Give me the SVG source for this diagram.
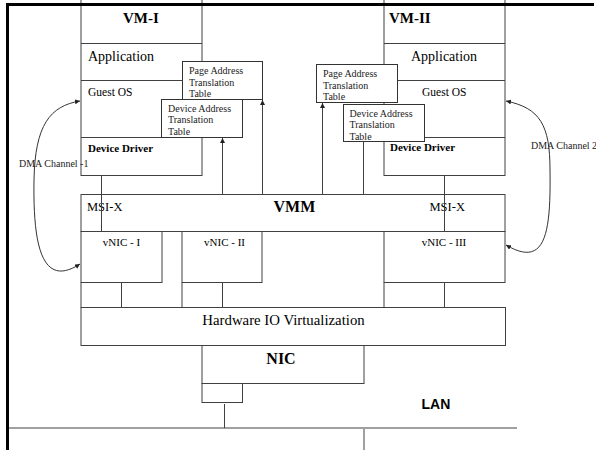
<svg xmlns="http://www.w3.org/2000/svg" width="596" height="450" viewBox="0 0 596 450">
<defs>
<style>
.box{fill:#fff;stroke:#404040;stroke-width:1}
.ln{fill:none;stroke:#404040;stroke-width:1}
.tbl{fill:#fff;stroke:#333;stroke-width:1}
.t{font-family:"Liberation Serif","Times New Roman",serif;fill:#000}
.tt{font-family:"Liberation Serif","Times New Roman",serif;font-size:10px;fill:#222}
.b{font-weight:bold}
</style>
<marker id="ah" viewBox="0 0 10 10" refX="10" refY="5" markerWidth="5" markerHeight="5" markerUnits="userSpaceOnUse" orient="auto-start-reverse"><path d="M0,0 L10,5 L0,10 z" fill="#222"/></marker>
</defs>
<rect width="596" height="450" fill="#fff"/>

<g id="vm1">
<rect class="box" x="81" y="-5" width="121" height="180.5"/>
<path class="ln" d="M81,43.5 H202 M81,80.5 H202 M81,137.5 H202"/>
<text class="t b" x="123" y="23" font-size="15">VM-I</text>
<text class="t" x="88" y="61" font-size="14">Application</text>
<text class="t" x="88" y="96" font-size="11.5">Guest OS</text>
<text class="t b" x="88" y="152" font-size="11">Device Driver</text>
</g>

<g id="vm2">
<rect class="box" x="384" y="-5" width="121" height="180.5"/>
<path class="ln" d="M384,43.5 H505 M384,80.5 H505 M384,137.5 H505"/>
<text class="t b" x="389" y="23" font-size="15">VM-II</text>
<text class="t" x="411" y="60.5" font-size="14">Application</text>
<text class="t" x="422" y="96" font-size="11.5">Guest OS</text>
<text class="t b" x="390" y="151" font-size="11">Device Driver</text>
</g>

<g id="pat1">
<rect class="tbl" x="182.5" y="61.5" width="80" height="38"/>
<text class="tt" x="189" y="74">Page Address</text>
<text class="tt" x="189" y="85.5">Translation</text>
<text class="tt" x="189" y="97">Table</text>
</g>
<g id="dat1">
<rect class="tbl" x="161.5" y="99.5" width="81" height="38"/>
<text class="tt" x="168" y="111.5">Device Address</text>
<text class="tt" x="168" y="123">Translation</text>
<text class="tt" x="168" y="134.5">Table</text>
</g>
<g id="pat2">
<rect class="tbl" x="316.5" y="64.5" width="81" height="38"/>
<text class="tt" x="323" y="77">Page Address</text>
<text class="tt" x="323" y="88.5">Translation</text>
<text class="tt" x="323" y="100">Table</text>
</g>
<g id="dat2">
<rect class="tbl" x="343.5" y="104.5" width="81" height="37"/>
<text class="tt" x="349.5" y="116.5">Device Address</text>
<text class="tt" x="349.5" y="128">Translation</text>
<text class="tt" x="349.5" y="139.5">Table</text>
</g>

<g id="vmm">
<rect class="box" x="81" y="194.5" width="424" height="37"/>
<text class="t" x="87" y="211" font-size="12.5">MSI-X</text>
<text class="t b" x="273.5" y="212" font-size="16">VMM</text>
<text class="t" x="429.5" y="211" font-size="12.5">MSI-X</text>
</g>

<g id="vnic1">
<rect class="box" x="81" y="231.5" width="81" height="51"/>
<text class="t" x="121.5" y="246" font-size="11" text-anchor="middle">vNIC - I</text>
</g>
<g id="vnic2">
<rect class="box" x="182" y="231.5" width="80" height="51"/>
<text class="t" x="224.5" y="246" font-size="11" text-anchor="middle">vNIC - II</text>
</g>
<g id="vnic3">
<rect class="box" x="384" y="231.5" width="121" height="51"/>
<text class="t" x="444" y="246" font-size="11" text-anchor="middle">vNIC - III</text>
</g>

<g id="hwio">
<rect class="box" x="81" y="307.5" width="424.5" height="38"/>
<text class="t" x="283.5" y="325" font-size="14.8" text-anchor="middle">Hardware IO Virtualization</text>
</g>

<g id="nic">
<rect class="box" x="202" y="345.5" width="162" height="38"/>
<text class="t b" x="281" y="364" font-size="16" text-anchor="middle">NIC</text>
</g>
<g id="port">
<rect class="box" x="202" y="383.5" width="40.5" height="19"/>
</g>

<g id="lan">
<path d="M8,428 H517 M364,428 V450" fill="none" stroke="#a0a0a0" stroke-width="2"/>
<text x="421.5" y="409" font-family="Liberation Sans, Arial, sans-serif" font-size="14" font-weight="bold" fill="#000">LAN</text>
</g>

<g id="connectors">
<path class="ln" d="M101.5,175.5 V231.5 M444.5,175.5 V231.5 M363.5,141.5 V194.5"/>
<path class="ln" d="M262.5,194.5 V100" marker-end="url(#ah)"/>
<path class="ln" d="M222.5,194.5 V138" marker-end="url(#ah)"/>
<path class="ln" d="M322.5,194.5 V103" marker-end="url(#ah)"/>
<path class="ln" d="M81,282.5 V307.5 M121.5,282.5 V307.5 M182,282.5 V307.5 M222.5,282.5 V307.5 M384,282.5 V307.5 M444.5,282.5 V307.5"/>
<path class="ln" d="M224.5,404 V428"/>
<path fill="none" stroke="#333" stroke-width="1" d="M80,101 C50,106 35,125 34,180 C33,240 40,290 80,264" marker-start="url(#ah)" marker-end="url(#ah)"/>
<path fill="none" stroke="#333" stroke-width="1" d="M506,101 C540,108 550,125 550,170 C551,235 545,268 506,245" marker-start="url(#ah)" marker-end="url(#ah)"/>
<text class="tt" x="19" y="167" font-size="9.7">DMA Channel -1</text>
<text class="tt" x="531" y="149" font-size="9.7">DMA Channel 2</text>
</g>

<path id="frame" d="M7.5,450 V4.5 H594" fill="none" stroke="#000" stroke-width="3"/>
</svg>
